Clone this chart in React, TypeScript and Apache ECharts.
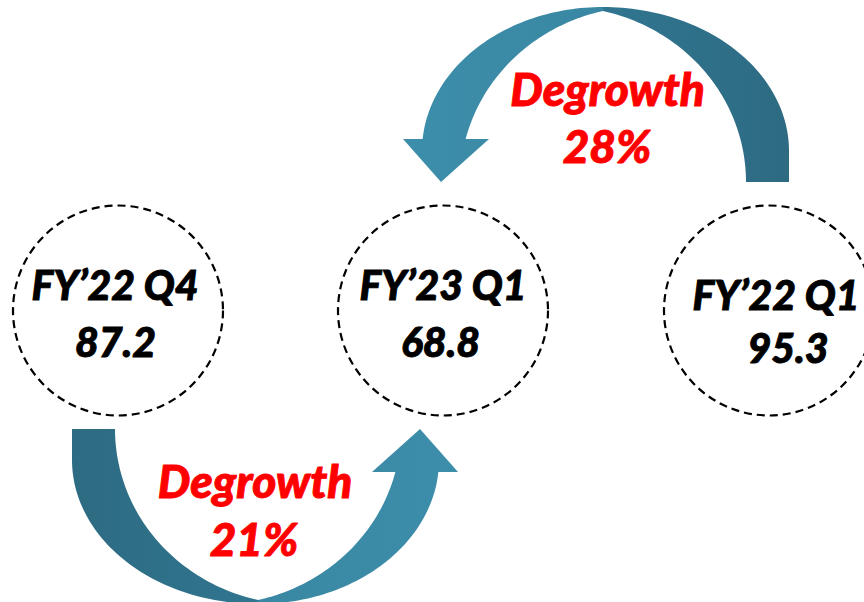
import React, { useEffect, useRef } from "react";
import * as echarts from "echarts";

// ---- data ----
const periods = ["FY’22 Q4", "FY’23 Q1", "FY’22 Q1"];
const values = [87.2, 68.8, 95.3];
const changeWord = "Degrowth";
// degrowth: FY'22 Q4 -> FY'23 Q1 (bottom arrow), FY'22 Q1 -> FY'23 Q1 (top arrow)
const pct = (from: number, to: number) => Math.round((1 - to / from) * 100) + "%";

// ---- layout ----
const W = 864;
const H = 602;
const circleCenters = [
  [118, 310.5],
  [443, 310.5],
  [769, 310.5],
];
const circleR = 105;
const line1Pos = [
  [115, 284.5],
  [443, 284.5],
  [776, 294],
];
const line2Pos = [
  [115.5, 341],
  [440.5, 341.5],
  [788, 347],
];
const FONT = "Lato, 'Open Sans', sans-serif";
const FS_BLACK = 41;
const FS_RED = 46;

function ell(cx: number, cy: number, rx: number, ry: number, t0: number, t1: number, n = 60) {
  const pts: number[][] = [];
  for (let i = 0; i <= n; i++) {
    const t = t0 + ((t1 - t0) * i) / n;
    pts.push([cx + rx * Math.cos(t), cy + ry * Math.sin(t)]);
  }
  return pts;
}

// curved arrow in local coords (origin at inner end centre), head on the right, pointing up
function arrowPieces() {
  const tail: number[][] = [[-186, 0]];
  tail.push(...ell(0, 31, 186, 144, Math.PI, Math.PI / 2));
  const tc = Math.acos(-42 / 185);
  tail.push(...ell(42, 0, 185, 175.6, tc, Math.PI));
  const head: number[][] = [];
  const tEnd = Math.asin(12 / 144);
  head.push(...ell(0, 31, 181, 144, Math.PI / 2, tEnd));
  head.push([200, 43], [162, 0], [114, 43]);
  const ti0 = Math.asin(43 / 175.6);
  const ti1 = Math.acos(42 / 185);
  head.push(...ell(-42, 0, 185, 175.6, ti0, ti1));
  return { tail, head };
}

function arrowGroup(x: number, y: number, rotation: number) {
  const { tail, head } = arrowPieces();
  return {
    type: "group",
    x,
    y,
    rotation,
    children: [
      {
        type: "polygon",
        shape: { points: tail },
        style: {
          fill: new echarts.graphic.LinearGradient(0, 0, 1, 0, [
            { offset: 0, color: "#2d6b82" },
            { offset: 1, color: "#317590" },
          ]),
        },
      },
      {
        type: "polygon",
        shape: { points: head },
        style: {
          fill: new echarts.graphic.LinearGradient(0, 0, 1, 0, [
            { offset: 0, color: "#3987a2" },
            { offset: 1, color: "#3d8eab" },
          ]),
        },
      },
    ],
  };
}

function txt(text: string, x: number, y: number, fill: string, size: number) {
  return {
    type: "text",
    x,
    y,
    style: {
      text,
      fill,
      stroke: fill,
      lineWidth: 0.9,
      fontSize: size,
      fontFamily: FONT,
      fontWeight: 900,
      fontStyle: "italic",
      textAlign: "center",
      textVerticalAlign: "middle",
      align: "center",
      verticalAlign: "middle",
    },
  };
}

export default function App() {
  const ref = useRef<HTMLDivElement>(null);
  useEffect(() => {
    if (!ref.current) return;
    const chart = echarts.init(ref.current, null, { renderer: "svg" });
    const elements: any[] = [];
    elements.push(arrowGroup(258, 429, 0));
    elements.push(arrowGroup(603, 182, Math.PI));
    circleCenters.forEach(([cx, cy]) => {
      elements.push({
        type: "circle",
        shape: { cx, cy, r: circleR },
        style: { fill: "none", stroke: "#000", lineWidth: 2.2, lineDash: [8, 5] },
      });
    });
    periods.forEach((p, i) => {
      elements.push(txt(p, line1Pos[i][0], line1Pos[i][1], "#000", FS_BLACK));
      elements.push(txt(values[i].toFixed(1), line2Pos[i][0], line2Pos[i][1], "#000", FS_BLACK));
    });
    elements.push(txt(changeWord, 255, 480.5, "#ff0000", FS_RED));
    elements.push(txt(pct(values[0], values[1]), 254, 538, "#ff0000", FS_RED));
    elements.push(txt(changeWord, 607.5, 88, "#ff0000", FS_RED));
    elements.push(txt(pct(values[2], values[1]), 607, 145.5, "#ff0000", FS_RED));

    chart.setOption({
      animation: false,
      backgroundColor: "#ffffff",
      graphic: { elements },
    });
    return () => chart.dispose();
  }, []);
  return (
    <div
      ref={ref}
      style={{ position: "fixed", left: 0, top: 0, width: W, height: H, background: "#fff" }}
    />
  );
}
